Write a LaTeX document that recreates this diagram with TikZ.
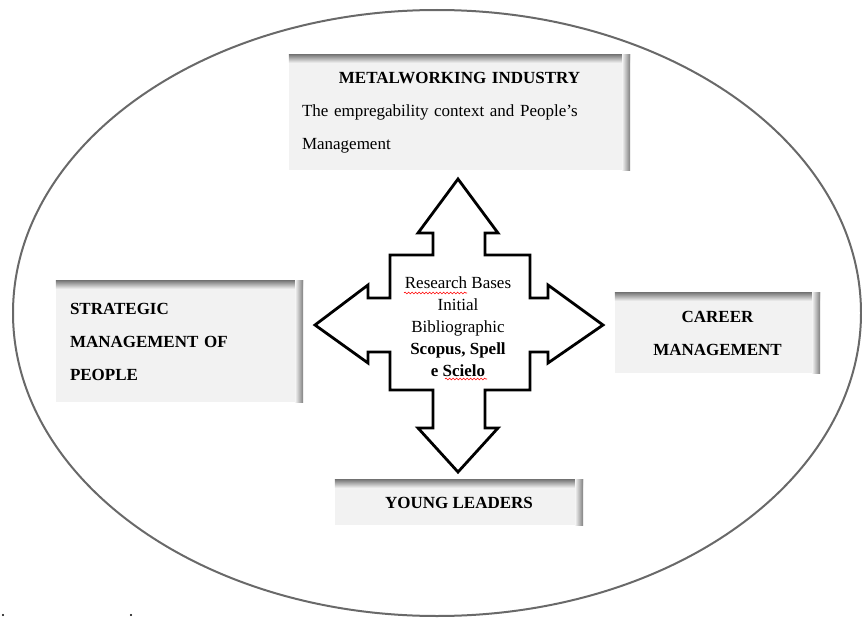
\documentclass[tikz,border=0pt]{standalone}
\usepackage{fontspec}
\setmainfont{Liberation Serif}
\usetikzlibrary{decorations.pathmorphing}
\definecolor{boxfill}{RGB}{242,242,242}
\definecolor{boxshade}{RGB}{125,125,125}
\definecolor{rim}{RGB}{105,105,105}
\begin{document}
\begin{tikzpicture}[x=1pt, y=-1pt,
    box/.style={fill=boxfill, inner sep=0pt, font=\fontsize{17}{33}\selectfont},
    squiggle/.style={red, line width=0.6pt, decorate, decoration={snake, amplitude=0.9pt, segment length=3.5pt}}]
    \useasboundingbox (0, 0) rectangle (862, 618);
    \draw[rim, line width=2pt] (437, 313) circle [x radius=424pt, y radius=303pt];

    \node[box, text width=315pt, inner xsep=13pt, minimum height=115pt, align=left] (1) at (459.5, 112.5)
        {{\centering\bfseries METALWORKING INDUSTRY\par}The empregability context and People’s\\Management};
    \node[box, text width=219pt, inner xsep=14pt, minimum height=121pt, align=left] (2) at (179.5, 341.5)
        {\bfseries STRATEGIC\\MANAGEMENT OF\\PEOPLE};
    \node[box, text width=177pt, inner xsep=14pt, minimum height=80pt, align=center] (3) at (717.5, 333)
        {\bfseries CAREER\\MANAGEMENT};
    \node[box, minimum width=248pt, minimum height=45pt] (4) at (459, 502.5) {\bfseries YOUNG LEADERS};
    \foreach \n in {1, 2, 3, 4} {
        \shade[top color=boxshade, bottom color=boxfill] (\n.north west) rectangle ([yshift=-8pt]\n.north east);
        \shade[left color=boxfill, right color=boxshade] ([xshift=-8pt]\n.north east) rectangle (\n.south east);
    }

    \draw[line width=2.8pt, line join=miter, fill=white] (458, 179) -- (498, 233) -- (485, 233) -- (485, 255)
        -- (530, 255) -- (530, 298) -- (548, 298) -- (548, 285) -- (603, 325) -- (548, 363) -- (548, 352)
        -- (530, 352) -- (530, 390) -- (485, 390) -- (485, 428) -- (498, 428) -- (458, 472) -- (418, 428)
        -- (433, 428) -- (433, 390) -- (390, 390) -- (390, 352) -- (368, 352) -- (368, 363) -- (315, 325)
        -- (368, 285) -- (368, 298) -- (390, 298) -- (390, 255) -- (433, 255) -- (433, 233) -- (418, 233) -- cycle;
    \node[align=center, inner sep=0pt, font=\fontsize{17}{22}\selectfont] (0) at (458, 327)
        {Research Bases\\Initial\\Bibliographic\\\textbf{Scopus, Spell}\\\textbf{e Scielo}};
    \draw[squiggle] (404, 293) -- (467, 293);
    \draw[squiggle] (445, 379) -- (487, 379);

    \fill (3, 615) circle (1.2pt);
    \fill (131, 615) circle (1.2pt);
\end{tikzpicture}
\end{document}
